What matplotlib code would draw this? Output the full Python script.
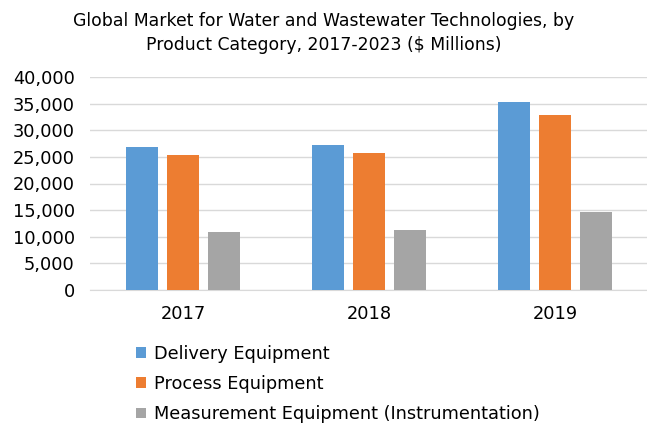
import matplotlib
matplotlib.use("Agg")
import matplotlib.pyplot as plt
import numpy as np

years = ["2017", "2018", "2019"]
series_names = ["Delivery Equipment", "Process Equipment", "Measurement Equipment (Instrumentation)"]
delivery = [26800, 27300, 35300]
process = [25400, 25700, 32900]
measurement = [10800, 11250, 14600]
colors = ["#5B9BD5", "#ED7D31", "#A5A5A5"]

plt.rcParams['font.family'] = ['DejaVu Sans']
fig = plt.figure(figsize=(6.47, 4.24), dpi=100)
ax = fig.add_axes([90/647, 1-290/424, 558/647, (290-77)/424])

x = np.arange(len(years))
w = 0.172
step = 0.22
for i, (vals, name, c) in enumerate(zip([delivery, process, measurement], series_names, colors)):
    ax.bar(x + (i-1)*step, vals, width=w, color=c, label=name, zorder=3)

ax.set_xlim(-0.5, 2.5)
ax.set_ylim(0, 40000)
ax.set_yticks(range(0, 40001, 5000))
ax.set_yticklabels([f"{v:,}" for v in range(0, 40001, 5000)])
ax.set_xticks(x)
ax.set_xticklabels(years)
ax.grid(axis='y', color='#D9D9D9', linewidth=1, zorder=0)
for s in ['top', 'right', 'left']:
    ax.spines[s].set_visible(False)
ax.spines['bottom'].set_color('#D9D9D9')
ax.tick_params(axis='both', length=0, labelsize=12.8, colors='black')
ax.tick_params(axis='y', pad=11)
ax.tick_params(axis='x', pad=11)

fig.text(0.5, 0.972, "Global Market for Water and Wastewater Technologies, by\nProduct Category, 2017-2023 ($ Millions)",
         ha='center', va='top', fontsize=12.4, linespacing=1.45)

fig.legend(loc='upper left', bbox_to_anchor=(0.199, 0.203), frameon=False, fontsize=12.8,
           handlelength=0.55, handleheight=0.55, handletextpad=0.45, labelspacing=0.68,
           borderaxespad=0)

fig.savefig("out.png", dpi=100)
